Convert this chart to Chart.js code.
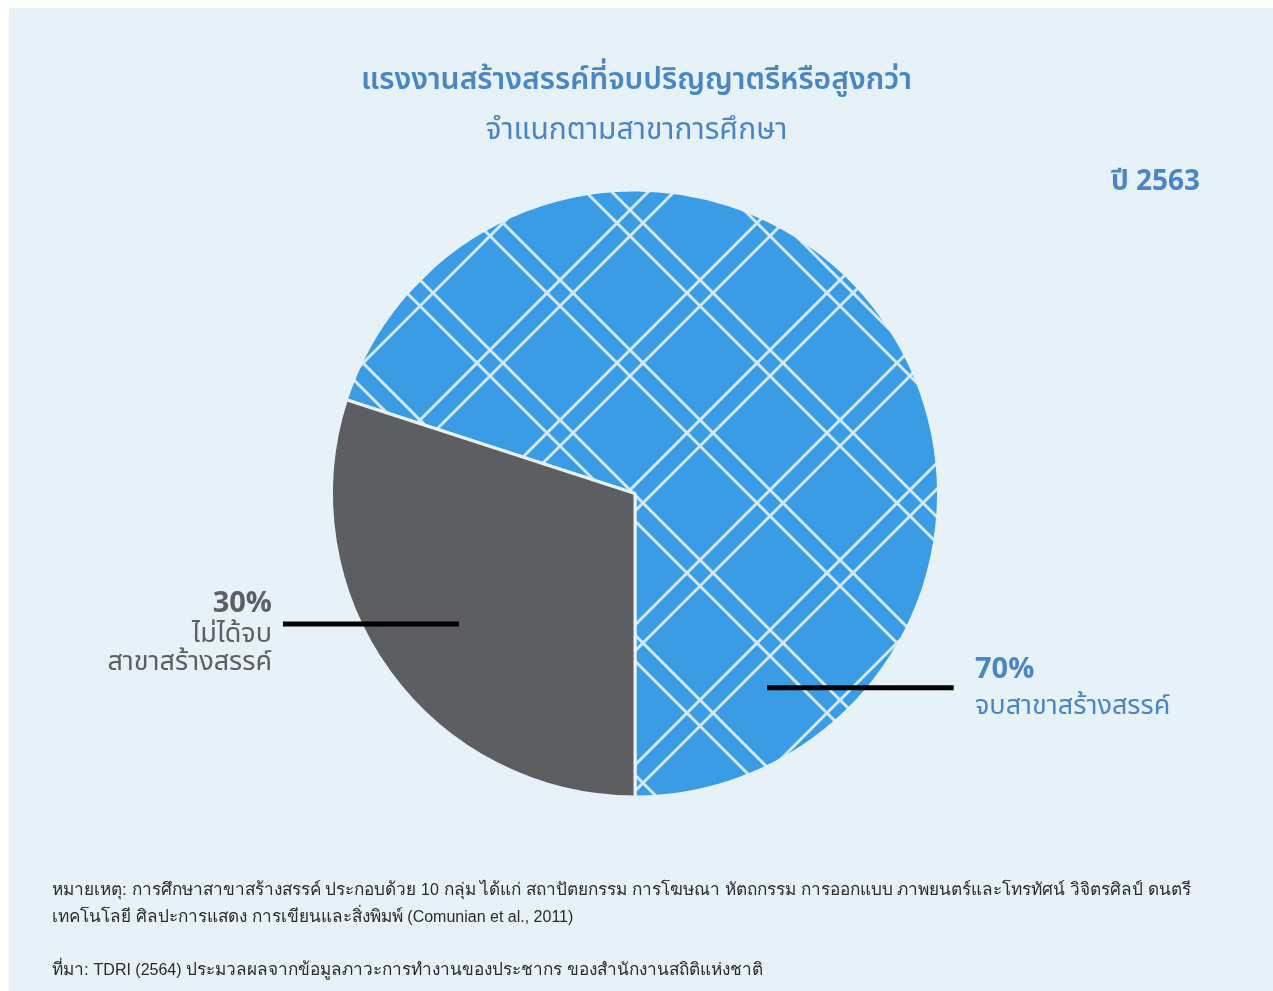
<!DOCTYPE html>
<html>
<head>
<meta charset="utf-8">
<script src="https://cdn.jsdelivr.net/npm/chart.js@4"></script>
<style>
  body { margin: 0; background: #ffffff; }
  #panel { position: absolute; left: 9px; top: 8px; width: 1264px; height: 983px; background: #e6f1f8; }
  #wrap { position: absolute; left: 0; top: 0; width: 1273px; height: 991px; }
  .t { position: absolute; white-space: nowrap; font-family: 'Noto Sans Thai', 'Noto Sans', sans-serif; }
  #title { left: 0; width: 1273px; top: 57px; text-align: center; font-size: 30px; font-weight: 600; color: #4a86c4; }
  #subtitle { left: 0; width: 1273px; top: 107px; text-align: center; font-size: 30px; font-weight: 400; color: #4a86c4; }
  #year { right: 73px; top: 160px; font-size: 28px; font-weight: 700; color: #4a86c4; }
  .note { left: 52px; font-size: 17.2px; color: #2b2b2b; font-family: 'Liberation Sans', sans-serif; }
  .note span { font-size: 16px; }
</style>
</head>
<body>
<div id="panel"></div>
<div id="wrap"><canvas id="pie-chart" width="1273" height="991"></canvas></div>
<div class="t" id="title">แรงงานสร้างสรรค์ที่จบปริญญาตรีหรือสูงกว่า</div>
<div class="t" id="subtitle">จำแนกตามสาขาการศึกษา</div>
<div class="t" id="year">ปี 2563</div>
<div class="t note" style="top:875px">หมายเหตุ: การศึกษาสาขาสร้างสรรค์ ประกอบด้วย <span>10</span> กลุ่ม ได้แก่ สถาปัตยกรรม การโฆษณา หัตถกรรม การออกแบบ ภาพยนตร์และโทรทัศน์ วิจิตรศิลป์ ดนตรี</div>
<div class="t note" style="top:902px">เทคโนโลยี ศิลปะการแสดง การเขียนและสิ่งพิมพ์ <span>(Comunian et al., 2011)</span></div>
<div class="t note" style="top:955px">ที่มา: <span>TDRI (2564)</span> ประมวลผลจากข้อมูลภาวะการทำงานของประชากร ของสำนักงานสถิติแห่งชาติ</div>
<script>
// ---------------------------- Data ---------------------------- //
const categories = [ "จบสาขาสร้างสรรค์", "ไม่ได้จบสาขาสร้างสรรค์" ];
const share_values = [ 70, 30 ];
const share_labels = [ "70%", "30%" ];
const label_lines = [ [ "จบสาขาสร้างสรรค์" ], [ "ไม่ได้จบ", "สาขาสร้างสรรค์" ] ];

// ---------------------------- Plaid fill ---------------------------- //
function make_plaid() {
    const size = 140;
    const c = document.createElement( "canvas" );
    c.width = size;
    c.height = size;
    const ctx = c.getContext( "2d" );
    ctx.fillStyle = "#399ce5";
    ctx.fillRect( 0, 0, size, size );
    ctx.strokeStyle = "#d4e9f7";
    ctx.lineWidth = 3;
    const offsets = [ 0, 26 ];
    for ( let k = -1; k <= 1; k++ ) {
        offsets.forEach( o => {
            const b = o + k * size;
            // "/" lines: x + y = b
            ctx.beginPath();
            ctx.moveTo( b + 2 * size, -size );
            ctx.lineTo( b - size, 2 * size );
            ctx.stroke();
            // "\" lines: y - x = b
            ctx.beginPath();
            ctx.moveTo( -size, b - size );
            ctx.lineTo( 2 * size, b + 2 * size );
            ctx.stroke();
        } );
    }
    return ctx.createPattern( c, "repeat" );
}

const pie_canvas = document.getElementById( "pie-chart" );
const plaid = make_plaid();

// leader lines and labels, placed from the chart's own center / radius
const label_plugin = {
    id: "pie_labels",
    afterDraw( chart ) {
        const arc = chart.getDatasetMeta( 0 ).data[ 0 ];
        const cx = arc.x, cy = arc.y, r = arc.outerRadius;
        const ctx = chart.ctx;
        ctx.save();
        ctx.strokeStyle = "#000000";
        ctx.lineWidth = 5;
        // 70% slice
        ctx.beginPath();
        ctx.moveTo( cx + 0.435 * r, cy + 0.64 * r );
        ctx.lineTo( cx + 1.05 * r, cy + 0.64 * r );
        ctx.stroke();
        // 30% slice
        ctx.beginPath();
        ctx.moveTo( cx - 0.58 * r, cy + 0.43 * r );
        ctx.lineTo( cx - 1.16 * r, cy + 0.43 * r );
        ctx.stroke();

        ctx.textBaseline = "middle";
        // 70%
        ctx.textAlign = "left";
        ctx.fillStyle = "#4a86c4";
        ctx.font = "700 29px 'Noto Sans Thai', 'Noto Sans', sans-serif";
        ctx.fillText( share_labels[ 0 ], 975, cy + 0.59 * r );
        ctx.font = "400 27px 'Noto Sans Thai', 'Noto Sans', sans-serif";
        label_lines[ 0 ].forEach( ( t, i ) => ctx.fillText( t, 975, cy + 0.71 * r + i * 28 ) );
        // 30%
        ctx.textAlign = "right";
        ctx.fillStyle = "#5d5f62";
        ctx.font = "700 29px 'Noto Sans Thai', 'Noto Sans', sans-serif";
        ctx.fillText( share_labels[ 1 ], 272, cy + 0.37 * r );
        ctx.font = "400 27px 'Noto Sans Thai', 'Noto Sans', sans-serif";
        label_lines[ 1 ].forEach( ( t, i ) => ctx.fillText( t, 272, cy + 0.47 * r + i * 28 ) );
        ctx.restore();
    }
};

const pie_data = {
    labels: categories,
    datasets: [
    {
        data: share_values,
        backgroundColor: [ plaid, "#5c5e61" ],
        borderColor: "#e6f1f8",
        borderWidth: 3
    } ]
};

const pie_chart = new Chart( pie_canvas,
{
    type: "pie",
    data: pie_data,
    options: {
        responsive: false,
        rotation: -72,
        layout: { padding: { left: 330, right: 333, top: 188, bottom: 192 } },
        plugins: {
            legend: { display: false },
            tooltip: { enabled: false }
        },
        animation: { duration: 0 }
    },
    plugins: [ label_plugin ]
} );
</script>
</body>
</html>
